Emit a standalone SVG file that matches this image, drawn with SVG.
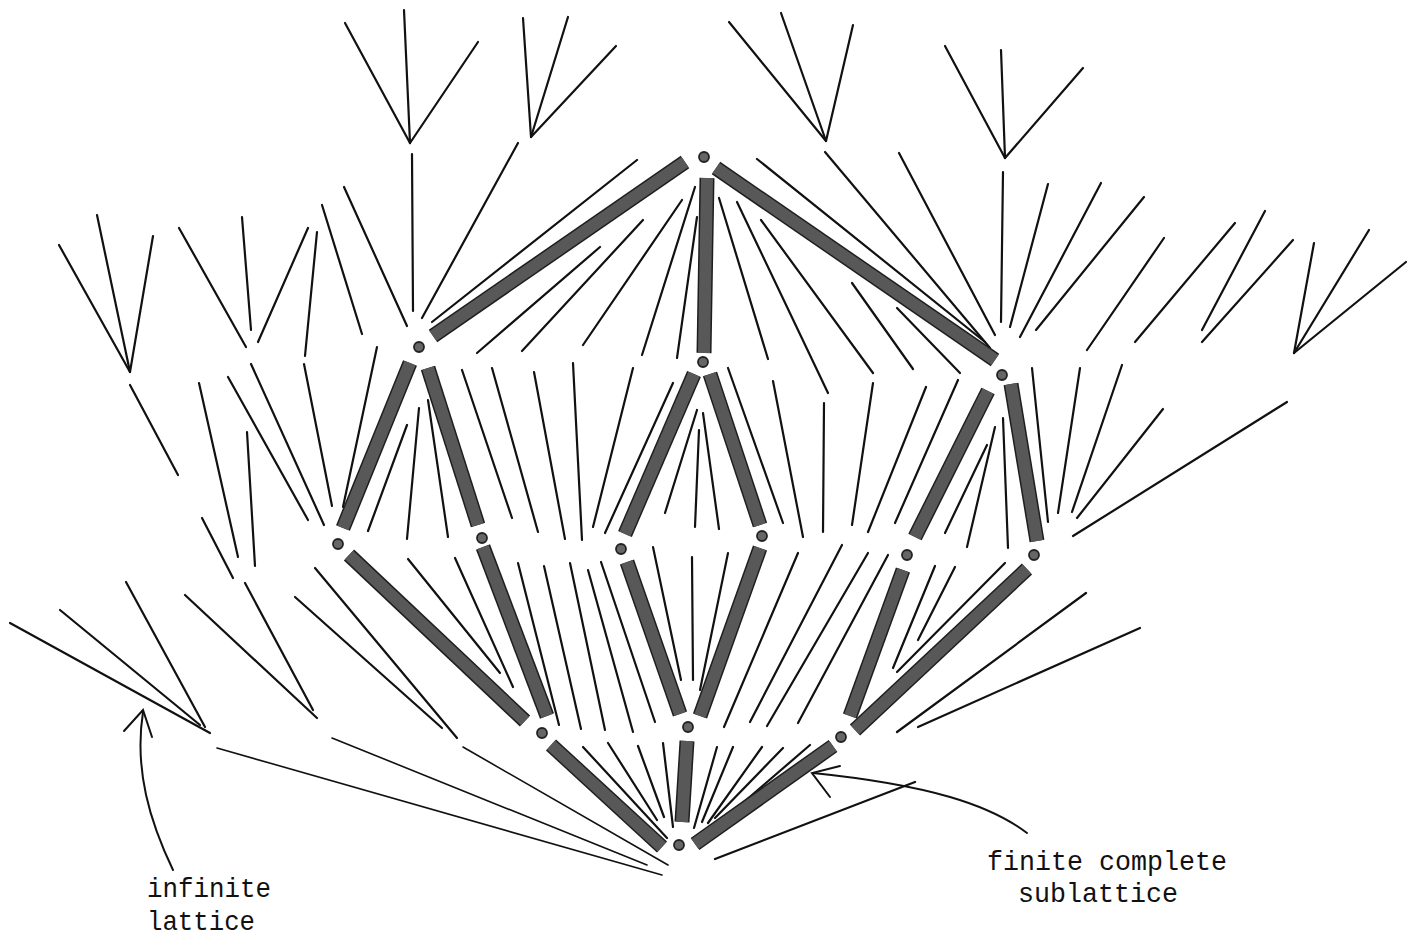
<svg xmlns="http://www.w3.org/2000/svg" xmlns:xlink="http://www.w3.org/1999/xlink" width="1421" height="941" viewBox="0 0 1421 941">
<style>
.ln line{stroke:#111;stroke-width:2.2;stroke-linecap:round;fill:none}
.thin line{stroke-width:1.6}
.dot{fill:#666;stroke:#222;stroke-width:1.8}
.lbl{font-family:"Liberation Mono","DejaVu Sans Mono",monospace;font-size:28px;fill:#111}
.arr{stroke:#111;stroke-width:2;fill:none;stroke-linecap:round}
</style>
<defs>
<g id="barpaths">
<line x1="685" y1="162" x2="433" y2="336"/>
<line x1="716" y1="168" x2="995" y2="360"/>
<line x1="707" y1="178" x2="704" y2="353"/>
<line x1="410" y1="363" x2="343" y2="528"/>
<line x1="428" y1="368" x2="478" y2="525"/>
<line x1="694" y1="374" x2="625" y2="534"/>
<line x1="710" y1="374" x2="760" y2="525"/>
<line x1="988" y1="391" x2="915" y2="537"/>
<line x1="1011" y1="384" x2="1037" y2="541"/>
<line x1="349" y1="555" x2="525" y2="721"/>
<line x1="483" y1="547" x2="547" y2="716"/>
<line x1="627" y1="562" x2="680" y2="714"/>
<line x1="760" y1="548" x2="700" y2="716"/>
<line x1="903" y1="570" x2="850" y2="716"/>
<line x1="1027" y1="569" x2="855" y2="730"/>
<line x1="551" y1="745" x2="662" y2="847"/>
<line x1="687" y1="741" x2="682" y2="822"/>
<line x1="833" y1="746" x2="695" y2="844"/>
</g>
</defs>
<rect width="1421" height="941" fill="#fff"/>
<g id="connectors">
<g class="ln">
<line x1="345" y1="23" x2="410" y2="143"/>
<line x1="404" y1="10" x2="410" y2="143"/>
<line x1="478" y1="42" x2="410" y2="143"/>
<line x1="412" y1="154" x2="413" y2="311"/>
<line x1="523" y1="18" x2="531" y2="137"/>
<line x1="568" y1="17" x2="531" y2="137"/>
<line x1="616" y1="46" x2="531" y2="137"/>
<line x1="729" y1="22" x2="826" y2="141"/>
<line x1="781" y1="13" x2="826" y2="141"/>
<line x1="853" y1="25" x2="826" y2="141"/>
<line x1="945" y1="46" x2="1005" y2="158"/>
<line x1="1001" y1="50" x2="1005" y2="158"/>
<line x1="1083" y1="68" x2="1005" y2="158"/>
<line x1="1003" y1="172" x2="1001" y2="322"/>
<line x1="59" y1="245" x2="130" y2="372"/>
<line x1="97" y1="215" x2="130" y2="372"/>
<line x1="153" y1="236" x2="130" y2="372"/>
<line x1="179" y1="228" x2="246" y2="347"/>
<line x1="242" y1="217" x2="251" y2="330"/>
<line x1="308" y1="228" x2="258" y2="342"/>
<line x1="317" y1="232" x2="305" y2="356"/>
<line x1="322" y1="205" x2="362" y2="334"/>
<line x1="344" y1="187" x2="407" y2="326"/>
<line x1="518" y1="143" x2="422" y2="318"/>
<line x1="637" y1="160" x2="432" y2="322"/>
<line x1="600" y1="247" x2="477" y2="353"/>
<line x1="643" y1="220" x2="522" y2="351"/>
<line x1="682" y1="200" x2="583" y2="345"/>
<line x1="695" y1="187" x2="642" y2="355"/>
<line x1="697" y1="217" x2="677" y2="358"/>
<line x1="719" y1="198" x2="768" y2="359"/>
<line x1="737" y1="202" x2="828" y2="393"/>
<line x1="761" y1="220" x2="873" y2="373"/>
<line x1="757" y1="159" x2="985" y2="342"/>
<line x1="825" y1="152" x2="990" y2="348"/>
<line x1="899" y1="153" x2="995" y2="335"/>
<line x1="852" y1="283" x2="913" y2="369"/>
<line x1="897" y1="308" x2="960" y2="373"/>
<line x1="1048" y1="184" x2="1010" y2="327"/>
<line x1="1101" y1="183" x2="1020" y2="337"/>
<line x1="1144" y1="197" x2="1036" y2="330"/>
<line x1="1164" y1="238" x2="1087" y2="350"/>
<line x1="1235" y1="223" x2="1135" y2="342"/>
<line x1="1265" y1="211" x2="1202" y2="330"/>
<line x1="1293" y1="240" x2="1202" y2="342"/>
<line x1="1314" y1="243" x2="1294" y2="353"/>
<line x1="1369" y1="230" x2="1294" y2="353"/>
<line x1="1406" y1="262" x2="1294" y2="353"/>
<line x1="1032" y1="368" x2="1048" y2="522"/>
<line x1="1080" y1="368" x2="1058" y2="513"/>
<line x1="1122" y1="365" x2="1072" y2="512"/>
<line x1="1163" y1="409" x2="1077" y2="518"/>
<line x1="1287" y1="402" x2="1073" y2="536"/>
<line x1="958" y1="380" x2="895" y2="523"/>
<line x1="995" y1="427" x2="967" y2="547"/>
<line x1="987" y1="445" x2="945" y2="533"/>
<line x1="1003" y1="418" x2="1008" y2="548"/>
<line x1="462" y1="370" x2="512" y2="518"/>
<line x1="492" y1="368" x2="538" y2="532"/>
<line x1="534" y1="372" x2="565" y2="539"/>
<line x1="573" y1="363" x2="582" y2="540"/>
<line x1="633" y1="368" x2="593" y2="527"/>
<line x1="673" y1="383" x2="605" y2="533"/>
<line x1="697" y1="410" x2="665" y2="513"/>
<line x1="699" y1="430" x2="695" y2="527"/>
<line x1="703" y1="413" x2="719" y2="529"/>
<line x1="728" y1="368" x2="783" y2="523"/>
<line x1="773" y1="381" x2="803" y2="537"/>
<line x1="824" y1="403" x2="823" y2="532"/>
<line x1="873" y1="383" x2="852" y2="525"/>
<line x1="926" y1="387" x2="868" y2="532"/>
<line x1="130" y1="385" x2="178" y2="475"/>
<line x1="199" y1="383" x2="238" y2="557"/>
<line x1="247" y1="432" x2="255" y2="566"/>
<line x1="202" y1="518" x2="233" y2="578"/>
<line x1="228" y1="377" x2="308" y2="520"/>
<line x1="251" y1="364" x2="324" y2="525"/>
<line x1="304" y1="364" x2="332" y2="506"/>
<line x1="377" y1="347" x2="343" y2="507"/>
<line x1="407" y1="425" x2="368" y2="531"/>
<line x1="419" y1="408" x2="407" y2="539"/>
<line x1="428" y1="400" x2="448" y2="537"/>
<line x1="10" y1="623" x2="210" y2="733"/>
<line x1="60" y1="610" x2="200" y2="725"/>
<line x1="126" y1="582" x2="205" y2="727"/>
<line x1="185" y1="595" x2="317" y2="718"/>
<line x1="245" y1="583" x2="313" y2="710"/>
<line x1="295" y1="597" x2="442" y2="728"/>
<line x1="315" y1="568" x2="457" y2="738"/>
<line x1="408" y1="559" x2="500" y2="673"/>
<line x1="455" y1="558" x2="513" y2="687"/>
<line x1="518" y1="563" x2="559" y2="725"/>
<line x1="544" y1="566" x2="581" y2="729"/>
<line x1="570" y1="563" x2="605" y2="730"/>
<line x1="588" y1="570" x2="633" y2="732"/>
<line x1="601" y1="562" x2="655" y2="722"/>
<line x1="653" y1="547" x2="681" y2="680"/>
<line x1="692" y1="557" x2="693" y2="680"/>
<line x1="728" y1="553" x2="700" y2="690"/>
<line x1="798" y1="553" x2="724" y2="727"/>
<line x1="842" y1="545" x2="750" y2="722"/>
<line x1="868" y1="553" x2="767" y2="726"/>
<line x1="888" y1="555" x2="798" y2="723"/>
<line x1="935" y1="566" x2="893" y2="668"/>
<line x1="1005" y1="563" x2="897" y2="672"/>
<line x1="955" y1="567" x2="918" y2="640"/>
<line x1="1086" y1="593" x2="897" y2="732"/>
<line x1="1140" y1="628" x2="918" y2="727"/>
<line x1="583" y1="747" x2="667" y2="838"/>
<line x1="608" y1="743" x2="657" y2="820"/>
<line x1="638" y1="746" x2="664" y2="817"/>
<line x1="663" y1="743" x2="673" y2="827"/>
<line x1="717" y1="747" x2="694" y2="828"/>
<line x1="733" y1="747" x2="702" y2="822"/>
<line x1="762" y1="747" x2="708" y2="823"/>
<line x1="783" y1="748" x2="715" y2="818"/>
<line x1="810" y1="745" x2="723" y2="820"/>
<line x1="915" y1="782" x2="715" y2="859"/>
</g>
<g class="ln thin">
<line x1="217" y1="748" x2="662" y2="875"/>
<line x1="332" y1="738" x2="647" y2="865"/>
<line x1="463" y1="747" x2="668" y2="865"/>
</g>
<g id="sublattice-bars">
<use xlink:href="#barpaths" href="#barpaths" stroke="#1e1e1e" stroke-width="15"/>
<use xlink:href="#barpaths" href="#barpaths" stroke="#585858" stroke-width="12"/>
</g>
</g>
<g id="n-top"><circle class="dot" cx="704" cy="157" r="5"/></g>
<g id="n-ul"><circle class="dot" cx="419" cy="347" r="5"/></g>
<g id="n-um"><circle class="dot" cx="703" cy="362" r="5"/></g>
<g id="n-ur"><circle class="dot" cx="1002" cy="375" r="5"/></g>
<g id="n-r2a"><circle class="dot" cx="338" cy="544" r="5"/></g>
<g id="n-r2b"><circle class="dot" cx="482" cy="538" r="5"/></g>
<g id="n-r2c"><circle class="dot" cx="621" cy="549" r="5"/></g>
<g id="n-r2d"><circle class="dot" cx="762" cy="536" r="5"/></g>
<g id="n-r2e"><circle class="dot" cx="907" cy="555" r="5"/></g>
<g id="n-r2f"><circle class="dot" cx="1034" cy="555" r="5"/></g>
<g id="n-r3a"><circle class="dot" cx="542" cy="733" r="5"/></g>
<g id="n-r3b"><circle class="dot" cx="688" cy="727" r="5"/></g>
<g id="n-r3c"><circle class="dot" cx="841" cy="737" r="5"/></g>
<g id="n-bottom"><circle class="dot" cx="679" cy="845" r="5"/></g>
<g id="label-infinite">
<path class="arr" d="M173,870 C150,822 134,770 143,712"/>
<path class="arr" d="M124,731 L143,710 L152,737"/>
<text class="lbl" x="147" y="897" textLength="124" lengthAdjust="spacingAndGlyphs">infinite</text>
<text class="lbl" x="147" y="930" textLength="108" lengthAdjust="spacingAndGlyphs">lattice</text>
</g>
<g id="label-finite">
<path class="arr" d="M1027,833 C990,805 930,785 813,773"/>
<path class="arr" d="M840,766 L812,773 L830,797"/>
<text class="lbl" x="987" y="870" textLength="240" lengthAdjust="spacingAndGlyphs">finite complete</text>
<text class="lbl" x="1018" y="902" textLength="160" lengthAdjust="spacingAndGlyphs">sublattice</text>
</g>
</svg>
